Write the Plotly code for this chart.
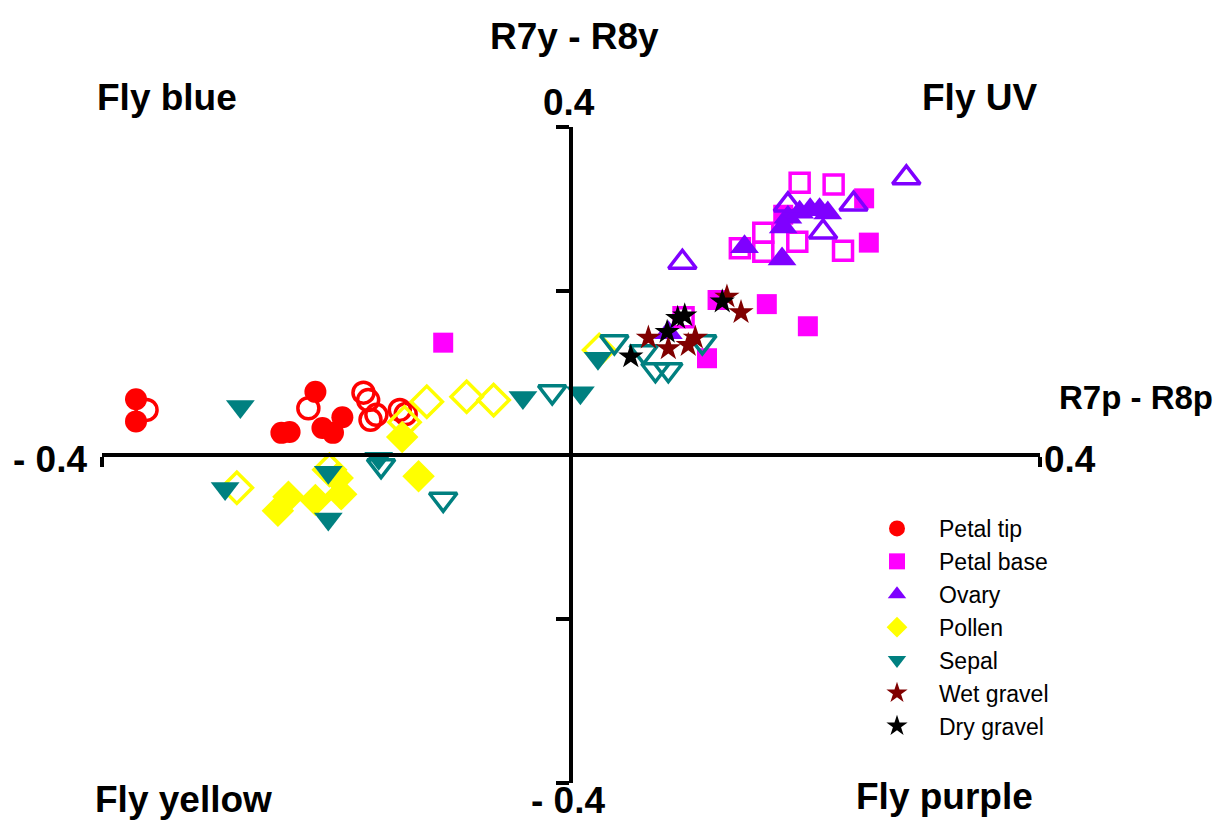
import plotly.graph_objects as go

# ---------------- data ----------------
petal_tip_filled_x = [-0.371, -0.371, -0.218, -0.247, -0.240, -0.212, -0.203, -0.195]
petal_tip_filled_y = [0.068, 0.041, 0.077, 0.027, 0.028, 0.033, 0.027, 0.046]
petal_tip_open_x = [-0.362, -0.224, -0.177, -0.173, -0.171, -0.166, -0.146, -0.141]
petal_tip_open_y = [0.055, 0.057, 0.076, 0.067, 0.043, 0.049, 0.055, 0.050]

petal_base_filled_x = [-0.109, 0.116, 0.125, 0.167, 0.202, 0.250, 0.254, 0.181]
petal_base_filled_y = [0.137, 0.118, 0.189, 0.184, 0.157, 0.313, 0.259, 0.293]
petal_base_open_x = [0.195, 0.224, 0.164, 0.144, 0.164, 0.193, 0.232, 0.096]
petal_base_open_y = [0.332, 0.330, 0.271, 0.252, 0.248, 0.260, 0.249, 0.168]

ovary_filled_x = [0.148, 0.180, 0.185, 0.195, 0.204, 0.212, 0.219, 0.181, 0.083]
ovary_filled_y = [0.254, 0.239, 0.290, 0.296, 0.299, 0.299, 0.295, 0.278, 0.149]
ovary_open_x = [0.095, 0.185, 0.241, 0.286, 0.215]
ovary_open_y = [0.235, 0.305, 0.306, 0.338, 0.272]

pollen_filled_x = [-0.144, -0.130, -0.250, -0.241, -0.218, -0.196, -0.199]
pollen_filled_y = [0.022, -0.026, -0.068, -0.051, -0.055, -0.048, -0.028]
pollen_open_x = [-0.285, -0.206, -0.142, -0.123, -0.089, -0.066, 0.024]
pollen_open_y = [-0.040, -0.018, 0.040, 0.065, 0.071, 0.067, 0.128]

sepal_filled_x = [-0.282, -0.295, -0.207, -0.207, -0.164, -0.041, 0.008, 0.023]
sepal_filled_y = [0.059, -0.041, -0.021, -0.078, -0.004, 0.070, 0.076, 0.118]
sepal_open_x = [0.037, 0.062, 0.072, 0.083, 0.112, -0.016, -0.109, -0.162]
sepal_open_y = [0.138, 0.126, 0.104, 0.104, 0.138, 0.077, -0.054, -0.013]

wet_gravel_x = [0.133, 0.145, 0.066, 0.100, 0.106, 0.083]
wet_gravel_y = [0.193, 0.174, 0.143, 0.134, 0.143, 0.130]

dry_gravel_x = [0.051, 0.082, 0.091, 0.097, 0.129]
dry_gravel_y = [0.120, 0.150, 0.167, 0.170, 0.187]

y_tick_vals = [-0.4, -0.2, 0.2, 0.4]
x_tick_vals = [-0.4, 0.4]

# ---------------- figure ----------------
fig = go.Figure()

series = [
    ("Petal tip", "#FF0000", "circle", 22,
     petal_tip_filled_x, petal_tip_filled_y, petal_tip_open_x, petal_tip_open_y),
    ("Petal base", "#FF00FF", "square", 20,
     petal_base_filled_x, petal_base_filled_y, petal_base_open_x, petal_base_open_y),
    ("Ovary", "#7F00FF", "triangle-up", 25,
     ovary_filled_x, ovary_filled_y, ovary_open_x, ovary_open_y),
    ("Pollen", "#FFFF00", "diamond", 25,
     pollen_filled_x, pollen_filled_y, pollen_open_x, pollen_open_y),
    ("Sepal", "#008080", "triangle-down", 25,
     sepal_filled_x, sepal_filled_y, sepal_open_x, sepal_open_y),
]

for name, color, sym, size, fx, fy, ox, oy in series:
    fig.add_trace(go.Scatter(
        x=fx, y=fy, mode="markers", name=name, legendgroup=name,
        marker=dict(symbol=sym, size=size, color=color, line=dict(width=0)),
    ))
    fig.add_trace(go.Scatter(
        x=ox, y=oy, mode="markers", name=name, legendgroup=name, showlegend=False,
        marker=dict(symbol=sym + "-open", size=size - 1, color=color, line=dict(width=3.5)),
    ))

fig.add_trace(go.Scatter(
    x=wet_gravel_x, y=wet_gravel_y, mode="markers", name="Wet gravel", legendgroup="Wet gravel",
    marker=dict(symbol="star", size=19, color="#800000", line=dict(width=0)),
))
fig.add_trace(go.Scatter(
    x=dry_gravel_x, y=dry_gravel_y, mode="markers", name="Dry gravel", legendgroup="Dry gravel",
    marker=dict(symbol="star", size=19, color="#000000", line=dict(width=0)),
))

L, R, T, B = 102, 180, 127, 37
W, H = 1220, 820
pw, ph = W - L - R, H - T - B


def px(x):
    return (x - L) / pw


def py(y):
    return (H - B - y) / ph


bold = dict(family="Liberation Sans, Arial, sans-serif", size=37, color="black", weight="bold")
texts = [
    ("R7y - R8y", 574, 36, bold),
    ("Fly blue", 167, 97, bold),
    ("Fly UV", 979, 97, bold),
    ("0.4", 569, 102, bold),
    ("R7p - R8p", 1136, 397, dict(bold, size=33)),
    ("- 0.4", 50, 460, bold),
    ("0.4", 1070, 460, bold),
    ("Fly yellow", 183, 799, bold),
    ("- 0.4", 568, 800, bold),
    ("Fly purple", 944, 796, bold),
]
annotations = [
    dict(text=t, x=px(x), y=py(y), xref="paper", yref="paper", showarrow=False,
         xanchor="center", yanchor="middle", font=f)
    for t, x, y, f in texts
]

fig.update_layout(
    width=W, height=H,
    margin=dict(l=L, r=R, t=T, b=B),
    paper_bgcolor="white", plot_bgcolor="white",
    showlegend=True,
    legend=dict(
        x=px(855), y=py(507), xanchor="left", yanchor="top",
        font=dict(family="Liberation Sans, Arial, sans-serif", size=23, color="black"),
        bgcolor="rgba(0,0,0,0)", tracegroupgap=0, itemwidth=74,
    ),
    annotations=annotations,
    xaxis=dict(
        range=[-0.4, 0.4], domain=[0, 1], anchor="free", position=0.5,
        showline=True, linewidth=4, linecolor="black",
        ticks="outside", tickvals=x_tick_vals, ticklen=10, tickwidth=4, tickcolor="black",
        showticklabels=False, showgrid=False, zeroline=False,
    ),
    yaxis=dict(
        range=[-0.4, 0.4], domain=[0, 1], anchor="free", position=0.5,
        showline=True, linewidth=4, linecolor="black",
        ticks="outside", tickvals=y_tick_vals, ticklen=13, tickwidth=4, tickcolor="black",
        showticklabels=False, showgrid=False, zeroline=False,
    ),
)

fig.write_html("out.html")
